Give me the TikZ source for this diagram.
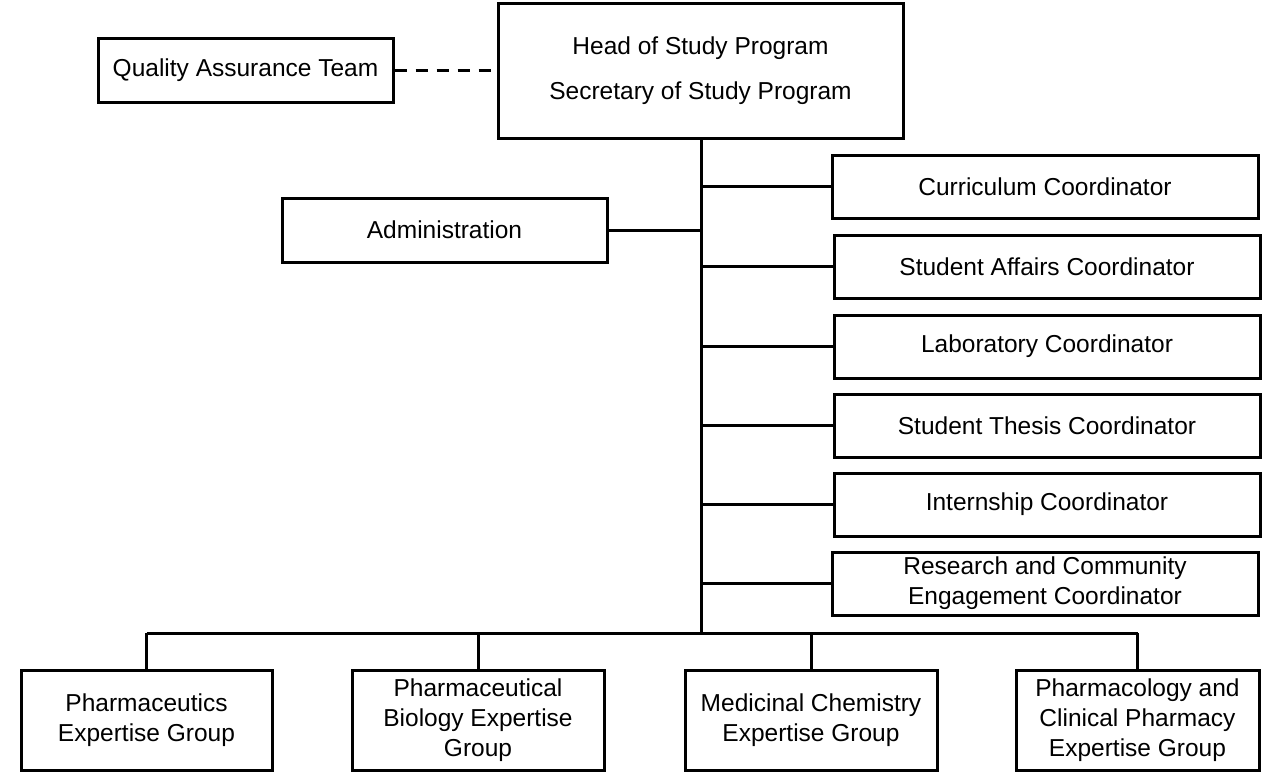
\documentclass[tikz,border=0pt]{standalone}
\usepackage{fontspec}
\setmainfont{Liberation Sans}
\begin{document}
\begin{tikzpicture}[x=1pt,y=-1pt,
  box/.style={draw,line width=3pt,inner sep=0pt,align=center,font=\fontsize{24.5}{30}\selectfont},
  ln/.style={line width=3pt}]
\useasboundingbox (0,0) rectangle (1280,777);
\def\bx#1#2#3#4#5#6{\node[box,minimum width=#4-#2,minimum height=#5-#3] (#1) at ({(#2+#4)/2},{(#3+#5)/2}) {#6};}
\bx{head}{498}{3}{903}{138}{Head of Study Program\\[15pt]Secretary of Study Program}
\bx{qa}{98}{38}{393}{102}{Quality Assurance Team}
\bx{adm}{282}{198}{607}{262}{Administration}
\bx{c1}{832}{155}{1258}{218}{Curriculum Coordinator}
\bx{c2}{834}{235}{1260}{298}{Student Affairs Coordinator}
\bx{c3}{834}{315}{1260}{378}{Laboratory Coordinator}
\bx{c4}{834}{394}{1260}{457}{Student Thesis Coordinator}
\bx{c5}{834}{473}{1260}{536}{Internship Coordinator}
\bx{c6}{832}{552}{1258}{615}{Research and Community\\Engagement Coordinator}
\bx{g1}{21}{670}{272}{770}{Pharmaceutics\\Expertise Group}
\bx{g2}{352}{670}{604}{770}{Pharmaceutical\\Biology Expertise\\Group}
\bx{g3}{685}{670}{937}{770}{Medicinal Chemistry\\Expertise Group}
\bx{g4}{1016}{670}{1259}{770}{Pharmacology and\\Clinical Pharmacy\\Expertise Group}
\draw[ln,dash pattern=on 12pt off 9pt] (qa.east) -- (head.west|-qa.east);
\coordinate (bus) at (701,633);
\draw[ln] (701,138) -- (bus);
\foreach \c in {c1,c2,c3,c4,c5,c6} \draw[ln] (\c.west) -- (701,0|-\c.west);
\draw[ln] (adm.east) -- (701,0|-adm.east);
\draw[ln] (g1.north|-bus) -- (g4.north|-bus);
\foreach \g in {g1,g2,g3,g4} \draw[ln] (\g.north|-bus) -- (\g.north);
\end{tikzpicture}
\end{document}
